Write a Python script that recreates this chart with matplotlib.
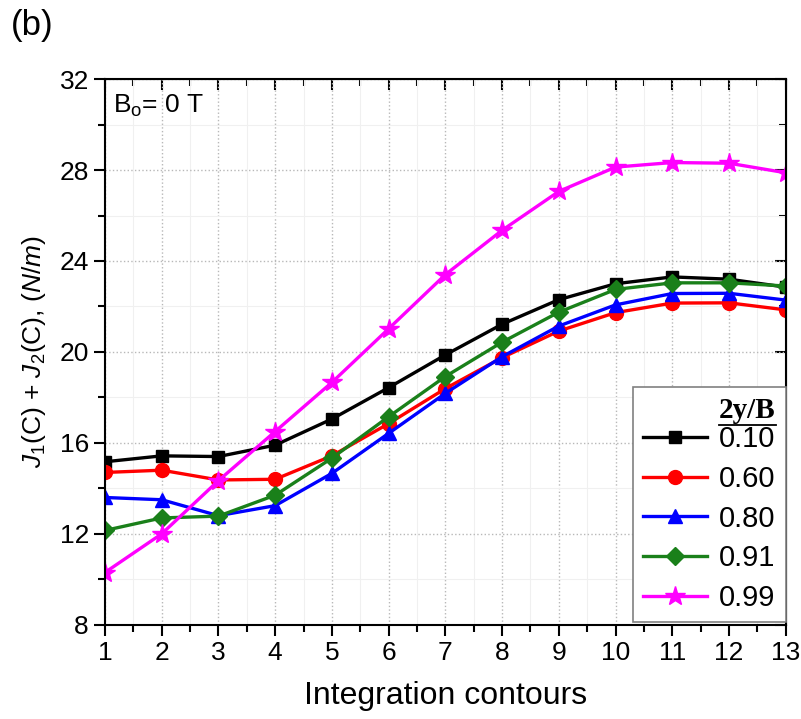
import matplotlib
matplotlib.use("Agg")
import matplotlib.pyplot as plt
from matplotlib.lines import Line2D
from matplotlib.ticker import MultipleLocator

plt.rcParams['font.family'] = ['Liberation Sans', 'DejaVu Sans']
plt.rcParams['mathtext.fontset'] = 'custom'
plt.rcParams['mathtext.rm'] = 'Liberation Sans'
plt.rcParams['mathtext.it'] = 'Liberation Sans:italic'

# data
contours = [1, 2, 3, 4, 5, 6, 7, 8, 9, 10, 11, 12, 13]
j_010 = [15.17, 15.43, 15.40, 15.90, 17.05, 18.43, 19.87, 21.22, 22.30, 23.00, 23.30, 23.20, 22.85]
j_060 = [14.70, 14.80, 14.37, 14.40, 15.43, 16.85, 18.39, 19.75, 20.92, 21.73, 22.15, 22.16, 21.85]
j_080 = [13.60, 13.50, 12.80, 13.24, 14.66, 16.42, 18.18, 19.79, 21.14, 22.07, 22.57, 22.58, 22.28]
j_091 = [12.15, 12.70, 12.78, 13.70, 15.33, 17.15, 18.92, 20.43, 21.75, 22.75, 23.04, 23.04, 22.90]
j_099 = [10.30, 12.00, 14.34, 16.50, 18.66, 21.02, 23.40, 25.35, 27.06, 28.13, 28.33, 28.30, 27.88]
labels = ["0.10", "0.60", "0.80", "0.91", "0.99"]

series = [j_010, j_060, j_080, j_091, j_099]
colors = ["black", "#ff0000", "#0000ff", "#1a801a", "#ff00ff"]
markers = ["s", "o", "^", "D", "*"]
msizes = [9, 10, 10, 9, 15]

fig = plt.figure(figsize=(8.01, 7.19), dpi=100)
ax = fig.add_axes([0.131, 0.131, 0.850, 0.759])

for ys, c, m, ms, lab in zip(series, colors, markers, msizes, labels):
    ax.plot(contours, ys, color=c, marker=m, markersize=ms, linewidth=2.4, label=lab)

ax.set_xlim(1, 13)
ax.set_ylim(8, 32)
ax.xaxis.set_major_locator(MultipleLocator(1))
ax.xaxis.set_minor_locator(MultipleLocator(0.5))
ax.yaxis.set_major_locator(MultipleLocator(4))
ax.yaxis.set_minor_locator(MultipleLocator(2))

ax.grid(which='major', color='#b8b8b8', linestyle=':', linewidth=1.0)
ax.grid(which='minor', color='#f0f0f0', linestyle='-', linewidth=0.8)
ax.set_axisbelow(True)

for sp in ax.spines.values():
    sp.set_linewidth(1.5)

ax.tick_params(which='major', direction='out', length=8, width=1.5, labelsize=19)
ax.tick_params(which='minor', direction='out', length=5, width=1.5)

# top / right ticks point inwards
top = ax.secondary_xaxis('top')
top.xaxis.set_major_locator(MultipleLocator(1))
top.xaxis.set_minor_locator(MultipleLocator(0.5))
top.tick_params(which='major', direction='in', length=8, width=1.5, labeltop=False)
top.tick_params(which='minor', direction='in', length=5, width=1.5)
right = ax.secondary_yaxis('right')
right.yaxis.set_major_locator(MultipleLocator(4))
right.yaxis.set_minor_locator(MultipleLocator(2))
right.tick_params(which='major', direction='in', length=8, width=1.5, labelright=False)
right.tick_params(which='minor', direction='in', length=5, width=1.5)

ax.set_xlabel("Integration contours", fontsize=23, labelpad=12)
ax.set_ylabel(r"$J_1$(C) + $J_2$(C), $(N/m)$", fontsize=19, labelpad=8)

ax.text(0.012, 0.975, r"B$_\mathrm{o}$= 0 T", transform=ax.transAxes, fontsize=19,
        ha='left', va='top')
fig.text(0.014, 0.988, "(b)", fontsize=25, ha='left', va='top')

leg = ax.legend(loc='lower right', bbox_to_anchor=(1.0, 0.005), borderaxespad=0,
                fontsize=21, fancybox=False, edgecolor='#808080', framealpha=1,
                handlelength=2.2, labelspacing=0.4, handletextpad=0.4,
                borderpad=0.35, title="2y/B", alignment='right')
leg.get_frame().set_linewidth(1.2)
leg.get_title().set_fontfamily(['Liberation Serif', 'DejaVu Serif'])
leg.get_title().set_fontweight('bold')
leg.get_title().set_fontsize(21)
leg._legend_box.sep = 1

fig.canvas.draw()
bb = leg.get_title().get_window_extent().transformed(fig.transFigure.inverted())
fig.add_artist(Line2D([bb.x0, bb.x1], [bb.y0 - 0.002, bb.y0 - 0.002],
                      transform=fig.transFigure, color='black', linewidth=1.3))

fig.savefig("out.png", dpi=100)
